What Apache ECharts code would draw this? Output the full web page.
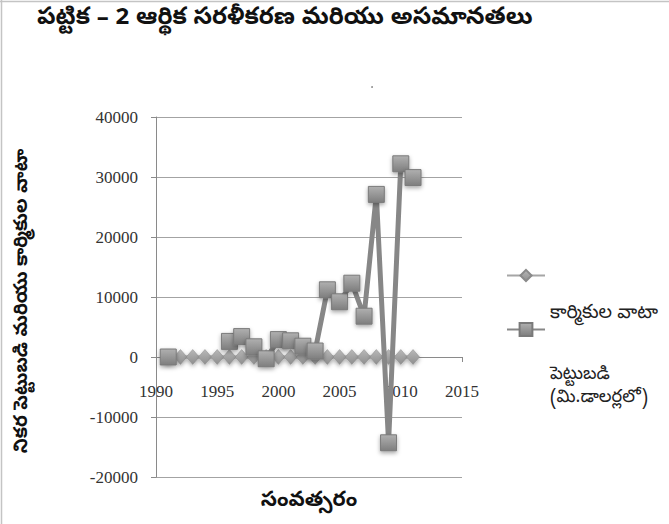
<!DOCTYPE html>
<html><head><meta charset="utf-8">
<script src="https://cdn.jsdelivr.net/npm/echarts@6/dist/echarts.min.js"></script>
<style>html,body{margin:0;padding:0;background:#fff}#c{width:669px;height:524px}</style>
</head><body><div id="c"></div>
<script>
// ---- data ----
const titleText = 'పట్టిక – 2 ఆర్థిక సరళీకరణ మరియు అసమానతలు';
const xAxisName = 'సంవత్సరం';
const yAxisName = 'నికర పెట్టుబడి మరియు కార్మికుల వాటా';
const seriesNames = ['కార్మికుల వాటా', 'పెట్టుబడి (మి.డాలర్లలో)'];
const years = [1991,1992,1993,1994,1995,1996,1997,1998,1999,2000,2001,2002,2003,2004,2005,2006,2007,2008,2009,2010,2011];
const labourShare = [0,0,0,0,0,0,0,0,0,0,0,0,0,0,0,0,0,0,0,0,0];
const investment = [0,null,null,null,null,2600,3400,1700,-300,2900,2700,1800,1000,11200,9200,12300,6800,27100,-14300,32200,29900];
const xTickMin = 1990, xTickMax = 2015, xTickStep = 5;
const yTickMin = -20000, yTickMax = 40000, yTickStep = 10000;

const teluguFont = "'Noto Sans Telugu','Noto Sans','Lohit Telugu',sans-serif";
const serifFont = "'Liberation Serif','DejaVu Serif',serif";

const gridTop = 117, gridBottom = 47, H = 524;
const plotH = H - gridTop - gridBottom;
// x axis crosses the value axis at zero
const xAxisOffset = -plotH * (0 - yTickMin) / (yTickMax - yTickMin);

const chart = echarts.init(document.getElementById('c'), null, {renderer: 'svg'});

const squareFill = new echarts.graphic.LinearGradient(0, 0, 0, 1, [
  {offset: 0, color: '#b0b0b0'}, {offset: 1, color: '#7e7e7e'}
]);
const diamondFill = new echarts.graphic.LinearGradient(0, 0, 0, 1, [
  {offset: 0, color: '#b8b8b8'}, {offset: 1, color: '#8e8e8e'}
]);

chart.setOption({
  backgroundColor: '#fff',
  animation: false,
  title: {
    text: titleText, left: 32, top: 2,
    textStyle: {fontFamily: teluguFont, fontSize: 24, fontWeight: 'bold', color: '#111'}
  },
  grid: {left: 156, right: 207, top: gridTop, bottom: gridBottom, outerBoundsMode: 'none', containLabel: false},
  xAxis: {
    type: 'value', min: xTickMin, max: xTickMax, interval: xTickStep,
    position: 'bottom', offset: xAxisOffset,
    name: xAxisName, nameLocation: 'middle', nameGap: 134,
    nameTextStyle: {fontFamily: teluguFont, fontSize: 21, fontWeight: 'bold', color: '#111'},
    axisLine: {onZero: false, lineStyle: {color: '#8a8a8a', width: 1}},
    axisTick: {show: true, length: 5, lineStyle: {color: '#8a8a8a'}},
    splitLine: {show: false},
    axisLabel: {margin: 26, fontFamily: serifFont, fontSize: 17, color: '#333', formatter: v => String(v)}
  },
  yAxis: {
    type: 'value', min: yTickMin, max: yTickMax, interval: yTickStep,
    name: yAxisName, nameLocation: 'middle', nameGap: 124, nameRotate: 90,
    nameTextStyle: {fontFamily: teluguFont, fontSize: 19, fontWeight: 'bold', color: '#111', padding: [0, 8, 0, 0]},
    axisLine: {show: true, lineStyle: {color: '#8a8a8a', width: 1}},
    axisTick: {show: true, length: 5, lineStyle: {color: '#8a8a8a'}},
    splitLine: {show: true, lineStyle: {color: '#a3a3a3', width: 1}},
    axisLabel: {margin: 18, fontFamily: serifFont, fontSize: 17, color: '#333', formatter: v => String(v)}
  },
  legend: [
    {
      data: [seriesNames[0]], orient: 'vertical', left: 501, top: 223,
      itemWidth: 38, itemHeight: 14, itemGap: 0,
      formatter: n => '\n\n\n\n' + n,
      textStyle: {fontFamily: teluguFont, fontSize: 19, lineHeight: 19, color: '#222'}
    },
    {
      data: [seriesNames[1]], orient: 'vertical', left: 501, top: 244,
      itemWidth: 38, itemHeight: 16, itemGap: 0,
      formatter: n => '\n\n\n\n\n' + n.replace(' ', '\n'),
      textStyle: {fontFamily: teluguFont, fontSize: 18, lineHeight: 23, color: '#222'}
    }
  ],
  graphic: [
    {type: 'line', shape: {x1: 1.5, y1: 0, x2: 1.5, y2: 524}, style: {stroke: '#c4c4c4', lineWidth: 1.5}, silent: true},
    {type: 'line', shape: {x1: 0, y1: 1.5, x2: 669, y2: 1.5}, style: {stroke: '#c4c4c4', lineWidth: 1.5}, silent: true},
    {type: 'circle', shape: {cx: 372, cy: 87, r: 0.8}, style: {fill: '#777'}, silent: true}
  ],
  series: [
    {
      name: seriesNames[0], type: 'line',
      data: years.map((y, i) => [y, labourShare[i]]),
      symbol: 'diamond', symbolSize: [13, 15], showSymbol: true,
      lineStyle: {color: '#a6a6a6', width: 3},
      itemStyle: {color: diamondFill, borderColor: '#8a8a8a', borderWidth: 0.5,
        shadowColor: 'rgba(0,0,0,0.35)', shadowBlur: 4, shadowOffsetY: 2},
      z: 2
    },
    {
      name: seriesNames[1], type: 'line',
      data: years.map((y, i) => [y, investment[i]]),
      connectNulls: false,
      symbol: 'rect', symbolSize: 16, showSymbol: true,
      lineStyle: {color: '#878787', width: 5},
      itemStyle: {color: squareFill, borderColor: '#7a7a7a', borderWidth: 1,
        shadowColor: 'rgba(0,0,0,0.35)', shadowBlur: 4, shadowOffsetY: 2},
      z: 3
    }
  ]
});
</script>
</body></html>
